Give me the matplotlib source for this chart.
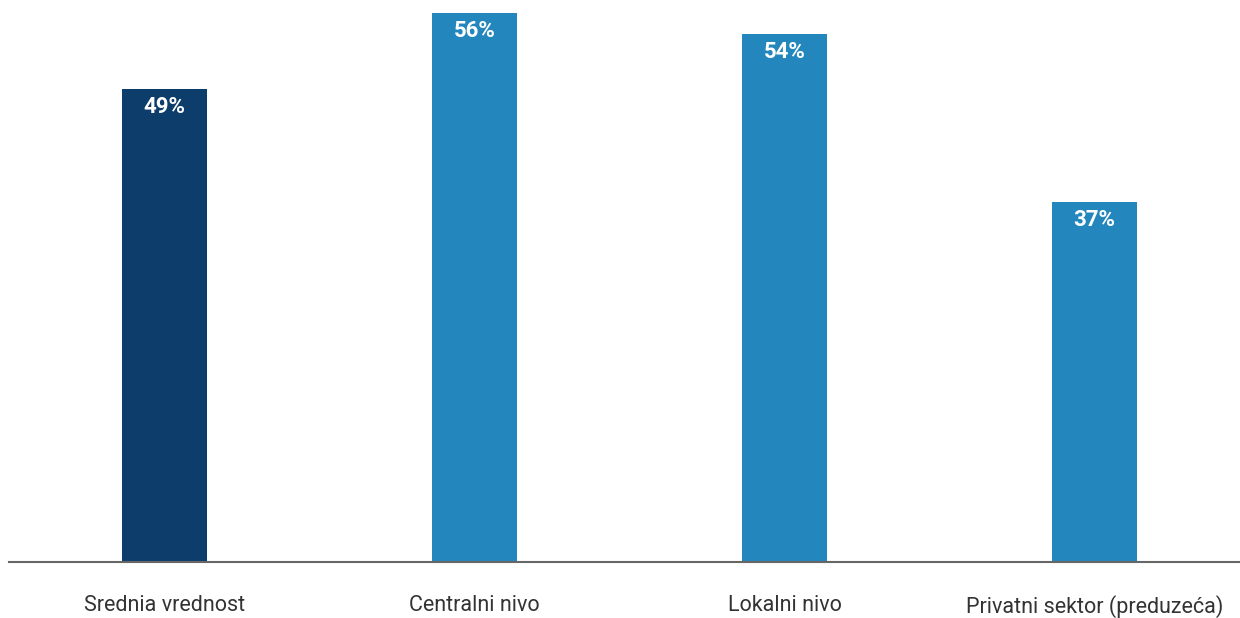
import matplotlib
matplotlib.use("Agg")
import matplotlib.pyplot as plt

categories = ["Srednia vrednost", "Centralni nivo", "Lokalni nivo", "Privatni sektor (preduzeća)"]
values = [48.6, 56.4, 54.3, 37.0]
colors = ["#0D3D6B", "#2387BD", "#2387BD", "#2387BD"]

W, H = 1240, 618
fig = plt.figure(figsize=(W / 100, H / 100), dpi=100)
base_px = 561.5
left_px = 9
ax = fig.add_axes([left_px / W, (H - base_px) / H, (W - left_px) / W, base_px / H])

x = list(range(len(categories)))
ax.bar(x, values, width=85 / 310, color=colors, zorder=2)
ax.set_xlim(-0.502, 3.469)
ax.set_ylim(0, base_px / 9.72)

for xi, v in zip(x, values):
    ax.annotate(f"{round(v):d}%", (xi, v), xytext=(0, -5), textcoords="offset points",
                ha="center", va="top", color="white", fontsize=16,
                fontweight="bold", family="Roboto")

ax.set_xticks(x)
ax.set_xticklabels(categories, fontsize=15.5, color="#333333", family="Roboto", fontweight="normal")
ax.tick_params(axis="x", length=0, pad=24)
ax.set_yticks([])
for s in ["top", "right", "left"]:
    ax.spines[s].set_visible(False)
ax.spines["bottom"].set_color("#666666")
ax.spines["bottom"].set_linewidth(1.5)

fig.savefig("out.png", dpi=100)
